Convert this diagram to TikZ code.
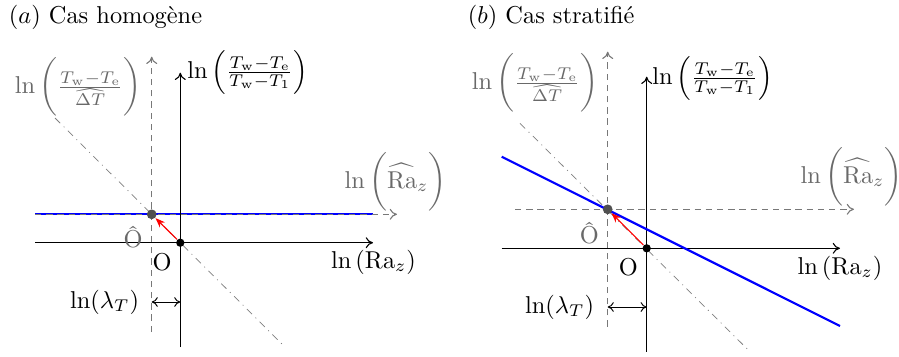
\documentclass[tikz,border=0pt]{standalone}
\usepackage{amsmath}
\usetikzlibrary{arrows.meta}
\definecolor{lblgray}{RGB}{105,105,105}
\definecolor{dotgray}{RGB}{80,80,80}
\begin{document}
\begin{tikzpicture}[x=0.41pt,y=-0.41pt,
  axis/.style={draw=black,line width=0.45pt,-{To[length=3pt,width=4.5pt]}},
  gaxis/.style={draw=lblgray!90,line width=0.45pt,dash pattern=on 2.6pt off 2pt,-{To[length=3pt,width=4.5pt]}},
  diagline/.style={draw=gray,line width=0.3pt,dash pattern=on 3pt off 2pt on 0.4pt off 2pt},
  blueline/.style={draw=blue,line width=0.9pt},
  redarrow/.style={draw=red,line width=0.45pt,-{Stealth[length=4pt,width=3pt]}},
  lamarrow/.style={draw=black,line width=0.4pt,{To[length=2.5pt,width=4pt]}-{To[length=2.5pt,width=4pt]}},
  blackdot/.style={circle,fill=black,inner sep=0pt,minimum size=3.4pt},
  graydot/.style={circle,fill=dotgray,inner sep=0pt,minimum size=4pt},
  lbl/.style={inner sep=1pt},
  glbl/.style={inner sep=1pt,text=lblgray}]
\useasboundingbox (0,0) rectangle (899,356);

% ---------------- panel (a)
\node[anchor=west,lbl] (ta) at (6,17) {$(a)$ Cas homog\`ene};
\coordinate (dva0) at (151.7,332);
\coordinate (dva1) at (151.7,56.7);
\coordinate (dha0) at (35,214.3);
\coordinate (dha1) at (397,214.3);
\coordinate (bla1) at (373,214.3);
\coordinate (xa0) at (35,242.7);
\coordinate (xa1) at (373,242.7);
\coordinate (ya0) at (180.3,347);
\coordinate (ya1) at (180.3,72.7);
\coordinate (dga0) at (55,118);
\coordinate (dga1) at (283,345);
\coordinate (la0) at (151.7,302);
\coordinate (la1) at (180.3,302);

\draw[diagline] (dga0) -- (dga1);
\draw[blueline] (dha0) -- (bla1);
\draw[gaxis] (dha0) -- (dha1);
\draw[gaxis] (dva0) -- (dva1);
\draw[axis] (xa0) -- (xa1);
\draw[axis] (ya0) -- (ya1);
\node[blackdot] (Oa) at (180.3,242.7) {};
\node[graydot] (Ha) at (151.7,214.3) {};
\draw[redarrow] (Oa) -- (Ha);
\draw[lamarrow] (la0) -- (la1);

\node[lbl] (tra) at (247.5,72) {$\ln\left(\frac{T_\mathrm{w}-T_\mathrm{e}}{T_\mathrm{w}-T_1}\right)$};
\node[glbl] (gra) at (78,87) {$\ln\,\biggl(\frac{T_\mathrm{w}-T_\mathrm{e}}{\widehat{\Delta T}}\biggr)$};
\node[glbl] (hra) at (395.5,182) {$\ln\,\biggl(\widehat{\mathrm{Ra}}_z\biggr)$};
\node[lbl] (raa) at (373.5,262) {$\ln\left(\mathrm{Ra}_z\right)$};
\node[glbl] (Hla) at (133,237) {\^O};
\node[lbl] (Ola) at (162,262) {O};
\node[lbl,anchor=east] (lama) at (142,302) {$\ln(\lambda_T)$};

% ---------------- panel (b)
\node[anchor=west,lbl] (tb) at (465,17) {$(b)$ Cas stratifi\'e};
\coordinate (dvb0) at (607.7,326.7);
\coordinate (dvb1) at (607.7,51.7);
\coordinate (dhb0) at (515,209.3);
\coordinate (dhb1) at (854,209.3);
\coordinate (xb0) at (501.7,248.3);
\coordinate (xb1) at (840,248.3);
\coordinate (yb0) at (646.7,351.7);
\coordinate (yb1) at (646.7,76.7);
\coordinate (blb0) at (501.7,156.7);
\coordinate (blb1) at (840,326);
\coordinate (dgb0) at (520,123.3);
\coordinate (dgb1) at (748.3,350);
\coordinate (lb0) at (607.7,307);
\coordinate (lb1) at (646.7,307);

\draw[diagline] (dgb0) -- (dgb1);
\draw[gaxis] (dhb0) -- (dhb1);
\draw[gaxis] (dvb0) -- (dvb1);
\draw[axis] (xb0) -- (xb1);
\draw[axis] (yb0) -- (yb1);
\draw[blueline] (blb0) -- (blb1);
\node[blackdot] (Ob) at (646.7,248.3) {};
\node[graydot] (Hb) at (607.7,209.3) {};
\draw[redarrow] (Ob) -- (Hb);
\draw[lamarrow] (lb0) -- (lb1);

\node[lbl] (trb) at (712.5,78) {$\ln\left(\frac{T_\mathrm{w}-T_\mathrm{e}}{T_\mathrm{w}-T_1}\right)$};
\node[glbl] (grb) at (535,83) {$\ln\,\biggl(\frac{T_\mathrm{w}-T_\mathrm{e}}{\widehat{\Delta T}}\biggr)$};
\node[glbl] (hrb) at (851.5,177) {$\ln\,\biggl(\widehat{\mathrm{Ra}}_z\biggr)$};
\node[lbl] (rab) at (840,268) {$\ln\left(\mathrm{Ra}_z\right)$};
\node[glbl] (Hlb) at (589.3,233) {\^O};
\node[lbl] (Olb) at (628.3,266.7) {O};
\node[lbl,anchor=east] (lamb) at (597,307) {$\ln(\lambda_T)$};
\end{tikzpicture}
\end{document}
